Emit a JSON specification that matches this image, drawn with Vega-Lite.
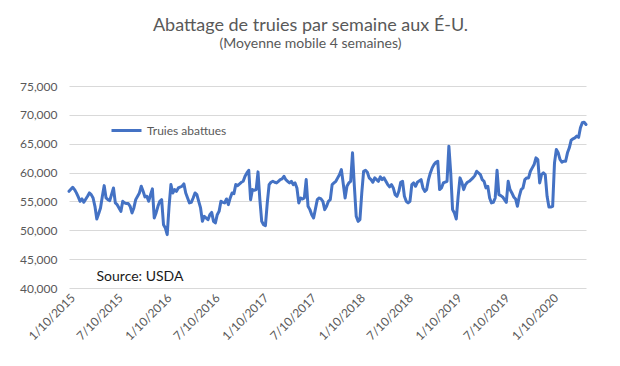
{
  "$schema": "https://vega.github.io/schema/vega-lite/v6.json",
  "autosize": "none",
  "width": 517,
  "height": 202,
  "padding": {"left": 69, "top": 86, "right": 34, "bottom": 78},
  "background": "white",
  "title": {
    "text": "Abattage de truies par semaine aux É-U.",
    "subtitle": "(Moyenne mobile 4 semaines)",
    "anchor": "middle",
    "dx": -17,
    "offset": 29,
    "font": "Lato",
    "fontSize": 18,
    "fontWeight": "normal",
    "color": "#595959",
    "subtitleFont": "Lato",
    "subtitleFontSize": 14,
    "subtitleColor": "#595959",
    "subtitlePadding": 2
  },
  "config": {"view": {"stroke": null}, "font": "Lato"},
  "data": {
    "values": [
      {"d": "2015-01-10", "v": 56750}, {"d": "2015-01-24", "v": 57450}, {"d": "2015-01-31", "v": 57050}, {"d": "2015-02-07", "v": 56480}, {"d": "2015-02-14", "v": 55780}, {"d": "2015-02-21", "v": 55020}, {"d": "2015-02-28", "v": 55430}, {"d": "2015-03-07", "v": 54850}, {"d": "2015-03-21", "v": 55890}, {"d": "2015-03-28", "v": 56470}, {"d": "2015-04-04", "v": 56180}, {"d": "2015-04-11", "v": 55600}, {"d": "2015-04-18", "v": 54150}, {"d": "2015-04-25", "v": 51960}, {"d": "2015-05-02", "v": 52880}, {"d": "2015-05-09", "v": 53870}, {"d": "2015-05-16", "v": 55890}, {"d": "2015-05-23", "v": 57740}, {"d": "2015-05-30", "v": 55600}, {"d": "2015-06-06", "v": 55310}, {"d": "2015-06-13", "v": 55140}, {"d": "2015-06-27", "v": 57340}, {"d": "2015-07-04", "v": 54740}, {"d": "2015-07-11", "v": 54440}, {"d": "2015-07-18", "v": 53870}, {"d": "2015-07-25", "v": 53280}, {"d": "2015-08-01", "v": 55020}, {"d": "2015-08-08", "v": 54740}, {"d": "2015-08-15", "v": 54620}, {"d": "2015-08-22", "v": 54620}, {"d": "2015-08-29", "v": 54150}, {"d": "2015-09-05", "v": 53000}, {"d": "2015-09-12", "v": 53870}, {"d": "2015-09-19", "v": 55310}, {"d": "2015-10-03", "v": 56470}, {"d": "2015-10-10", "v": 57630}, {"d": "2015-10-17", "v": 56750}, {"d": "2015-10-24", "v": 55780}, {"d": "2015-10-31", "v": 55890}, {"d": "2015-11-07", "v": 55020}, {"d": "2015-11-14", "v": 56180}, {"d": "2015-11-21", "v": 57170}, {"d": "2015-11-28", "v": 52130}, {"d": "2015-12-05", "v": 53000}, {"d": "2015-12-12", "v": 54150}, {"d": "2015-12-19", "v": 55020}, {"d": "2015-12-26", "v": 55310},
      {"d": "2016-01-02", "v": 50970}, {"d": "2016-01-09", "v": 50400}, {"d": "2016-01-16", "v": 49240}, {"d": "2016-01-23", "v": 54150}, {"d": "2016-01-30", "v": 57920}, {"d": "2016-02-06", "v": 56470}, {"d": "2016-02-13", "v": 57050}, {"d": "2016-02-20", "v": 56750}, {"d": "2016-02-27", "v": 57340}, {"d": "2016-03-12", "v": 57630}, {"d": "2016-03-19", "v": 58040}, {"d": "2016-03-26", "v": 56470}, {"d": "2016-04-02", "v": 55600}, {"d": "2016-04-09", "v": 54740}, {"d": "2016-04-16", "v": 54850}, {"d": "2016-04-23", "v": 55600}, {"d": "2016-04-30", "v": 56470}, {"d": "2016-05-07", "v": 56180}, {"d": "2016-05-14", "v": 55020}, {"d": "2016-05-21", "v": 53870}, {"d": "2016-05-28", "v": 51550}, {"d": "2016-06-04", "v": 52420}, {"d": "2016-06-18", "v": 51840}, {"d": "2016-06-25", "v": 52710}, {"d": "2016-07-02", "v": 53110}, {"d": "2016-07-09", "v": 51550}, {"d": "2016-07-16", "v": 51270}, {"d": "2016-07-23", "v": 52710}, {"d": "2016-07-30", "v": 53280}, {"d": "2016-08-06", "v": 55020}, {"d": "2016-08-13", "v": 54850}, {"d": "2016-08-20", "v": 54740}, {"d": "2016-08-27", "v": 55430}, {"d": "2016-09-03", "v": 54440}, {"d": "2016-09-10", "v": 55600}, {"d": "2016-09-17", "v": 56470}, {"d": "2016-09-24", "v": 56350}, {"d": "2016-10-01", "v": 57920}, {"d": "2016-10-08", "v": 57740}, {"d": "2016-10-22", "v": 58320}, {"d": "2016-10-29", "v": 58490}, {"d": "2016-11-05", "v": 59360}, {"d": "2016-11-12", "v": 59940}, {"d": "2016-11-19", "v": 60400}, {"d": "2016-11-26", "v": 55310}, {"d": "2016-12-03", "v": 57050}, {"d": "2016-12-10", "v": 56930}, {"d": "2016-12-17", "v": 57050}, {"d": "2016-12-24", "v": 60120}, {"d": "2016-12-31", "v": 55310},
      {"d": "2017-01-07", "v": 51550}, {"d": "2017-01-14", "v": 50970}, {"d": "2017-01-21", "v": 50800}, {"d": "2017-01-28", "v": 54740}, {"d": "2017-02-04", "v": 57920}, {"d": "2017-02-11", "v": 58320}, {"d": "2017-02-18", "v": 58490}, {"d": "2017-02-25", "v": 58320}, {"d": "2017-03-04", "v": 58210}, {"d": "2017-03-11", "v": 58490}, {"d": "2017-03-18", "v": 58780}, {"d": "2017-03-25", "v": 58900}, {"d": "2017-04-01", "v": 59360}, {"d": "2017-04-08", "v": 58780}, {"d": "2017-04-15", "v": 58490}, {"d": "2017-04-22", "v": 58210}, {"d": "2017-04-29", "v": 58490}, {"d": "2017-05-06", "v": 57920}, {"d": "2017-05-13", "v": 58210}, {"d": "2017-05-20", "v": 57340}, {"d": "2017-05-27", "v": 54740}, {"d": "2017-06-03", "v": 55600}, {"d": "2017-06-10", "v": 55430}, {"d": "2017-06-17", "v": 55600}, {"d": "2017-06-24", "v": 58780}, {"d": "2017-07-01", "v": 54150}, {"d": "2017-07-08", "v": 53580}, {"d": "2017-07-15", "v": 52710}, {"d": "2017-07-22", "v": 52140}, {"d": "2017-08-05", "v": 55310}, {"d": "2017-08-12", "v": 55600}, {"d": "2017-08-19", "v": 55430}, {"d": "2017-08-26", "v": 55020}, {"d": "2017-09-02", "v": 53580}, {"d": "2017-09-09", "v": 54150}, {"d": "2017-09-16", "v": 55020}, {"d": "2017-09-23", "v": 55310}, {"d": "2017-09-30", "v": 57920}, {"d": "2017-10-07", "v": 58210}, {"d": "2017-10-14", "v": 58490}, {"d": "2017-10-21", "v": 59080}, {"d": "2017-10-28", "v": 59650}, {"d": "2017-11-04", "v": 60520}, {"d": "2017-11-18", "v": 55600}, {"d": "2017-11-25", "v": 57630}, {"d": "2017-12-02", "v": 58210}, {"d": "2017-12-09", "v": 58490}, {"d": "2017-12-16", "v": 63420}, {"d": "2017-12-23", "v": 57630}, {"d": "2017-12-30", "v": 52420},
      {"d": "2018-01-06", "v": 51550}, {"d": "2018-01-13", "v": 51840}, {"d": "2018-01-20", "v": 56470}, {"d": "2018-01-27", "v": 60230}, {"d": "2018-02-03", "v": 60400}, {"d": "2018-02-10", "v": 60050}, {"d": "2018-02-17", "v": 59080}, {"d": "2018-02-24", "v": 58780}, {"d": "2018-03-03", "v": 58320}, {"d": "2018-03-10", "v": 59080}, {"d": "2018-03-24", "v": 58490}, {"d": "2018-03-31", "v": 59250}, {"d": "2018-04-07", "v": 58780}, {"d": "2018-04-14", "v": 59080}, {"d": "2018-04-21", "v": 58490}, {"d": "2018-04-28", "v": 57920}, {"d": "2018-05-05", "v": 57520}, {"d": "2018-05-12", "v": 57920}, {"d": "2018-05-19", "v": 57340}, {"d": "2018-05-26", "v": 56180}, {"d": "2018-06-02", "v": 55890}, {"d": "2018-06-09", "v": 56750}, {"d": "2018-06-16", "v": 58320}, {"d": "2018-06-23", "v": 58490}, {"d": "2018-06-30", "v": 55890}, {"d": "2018-07-07", "v": 55020}, {"d": "2018-07-14", "v": 54740}, {"d": "2018-07-21", "v": 55020}, {"d": "2018-07-28", "v": 57920}, {"d": "2018-08-04", "v": 58210}, {"d": "2018-08-11", "v": 57630}, {"d": "2018-08-18", "v": 58320}, {"d": "2018-09-01", "v": 58780}, {"d": "2018-09-08", "v": 57340}, {"d": "2018-09-15", "v": 56750}, {"d": "2018-09-22", "v": 57050}, {"d": "2018-09-29", "v": 58780}, {"d": "2018-10-06", "v": 59940}, {"d": "2018-10-13", "v": 60810}, {"d": "2018-10-20", "v": 61390}, {"d": "2018-10-27", "v": 61790}, {"d": "2018-11-03", "v": 61960}, {"d": "2018-11-10", "v": 57050}, {"d": "2018-11-17", "v": 57340}, {"d": "2018-11-24", "v": 58210}, {"d": "2018-12-08", "v": 58490}, {"d": "2018-12-15", "v": 64570}, {"d": "2018-12-22", "v": 59940}, {"d": "2018-12-29", "v": 53580},
      {"d": "2019-01-05", "v": 53000}, {"d": "2019-01-12", "v": 51960}, {"d": "2019-01-19", "v": 55890}, {"d": "2019-01-26", "v": 59080}, {"d": "2019-02-02", "v": 58320}, {"d": "2019-02-09", "v": 57050}, {"d": "2019-02-16", "v": 57920}, {"d": "2019-02-23", "v": 58320}, {"d": "2019-03-02", "v": 58490}, {"d": "2019-03-09", "v": 58780}, {"d": "2019-03-16", "v": 59080}, {"d": "2019-03-23", "v": 59480}, {"d": "2019-03-30", "v": 60230}, {"d": "2019-04-13", "v": 59650}, {"d": "2019-04-20", "v": 58780}, {"d": "2019-04-27", "v": 58490}, {"d": "2019-05-04", "v": 57340}, {"d": "2019-05-11", "v": 57630}, {"d": "2019-05-18", "v": 55600}, {"d": "2019-05-25", "v": 54740}, {"d": "2019-06-01", "v": 54850}, {"d": "2019-06-08", "v": 55600}, {"d": "2019-06-15", "v": 60400}, {"d": "2019-06-22", "v": 56180}, {"d": "2019-06-29", "v": 56010}, {"d": "2019-07-06", "v": 55780}, {"d": "2019-07-20", "v": 54850}, {"d": "2019-07-27", "v": 58490}, {"d": "2019-08-03", "v": 57050}, {"d": "2019-08-10", "v": 56470}, {"d": "2019-08-17", "v": 55780}, {"d": "2019-08-24", "v": 55430}, {"d": "2019-08-31", "v": 54150}, {"d": "2019-09-07", "v": 55890}, {"d": "2019-09-14", "v": 57050}, {"d": "2019-09-21", "v": 57340}, {"d": "2019-09-28", "v": 58780}, {"d": "2019-10-05", "v": 59080}, {"d": "2019-10-12", "v": 59080}, {"d": "2019-10-19", "v": 60230}, {"d": "2019-10-26", "v": 60810}, {"d": "2019-11-02", "v": 61390}, {"d": "2019-11-09", "v": 62550}, {"d": "2019-11-16", "v": 62260}, {"d": "2019-11-23", "v": 58210}, {"d": "2019-11-30", "v": 59650}, {"d": "2019-12-07", "v": 59940}, {"d": "2019-12-14", "v": 59650}, {"d": "2019-12-21", "v": 55890}, {"d": "2019-12-28", "v": 54040},
      {"d": "2020-01-04", "v": 54040}, {"d": "2020-01-11", "v": 54150}, {"d": "2020-01-18", "v": 61680}, {"d": "2020-01-25", "v": 63990}, {"d": "2020-02-01", "v": 63420}, {"d": "2020-02-08", "v": 62260}, {"d": "2020-02-15", "v": 61790}, {"d": "2020-02-22", "v": 61960}, {"d": "2020-02-29", "v": 61960}, {"d": "2020-03-07", "v": 63420}, {"d": "2020-03-14", "v": 64290}, {"d": "2020-03-21", "v": 65610}, {"d": "2020-03-28", "v": 65850}, {"d": "2020-04-04", "v": 66020}, {"d": "2020-04-11", "v": 66310}, {"d": "2020-04-18", "v": 66100}, {"d": "2020-04-25", "v": 67760}, {"d": "2020-05-02", "v": 68630}, {"d": "2020-05-09", "v": 68730}, {"d": "2020-05-16", "v": 68330}
    ]
  },
  "layer": [
    {
      "mark": {"type": "line", "strokeWidth": 3, "strokeJoin": "round", "strokeCap": "round"},
      "encoding": {
        "x": {
          "field": "d",
          "type": "temporal",
          "scale": {"type": "utc", "domain": [{"year": 2015, "month": 1, "date": 10, "utc": true}, {"year": 2020, "month": 5, "date": 16, "utc": true}]},
          "axis": {
            "title": null,
            "values": [
              {"year": 2015, "month": 1, "date": 10, "utc": true}, {"year": 2015, "month": 7, "date": 10, "utc": true},
              {"year": 2016, "month": 1, "date": 10, "utc": true}, {"year": 2016, "month": 7, "date": 10, "utc": true},
              {"year": 2017, "month": 1, "date": 10, "utc": true}, {"year": 2017, "month": 7, "date": 10, "utc": true},
              {"year": 2018, "month": 1, "date": 10, "utc": true}, {"year": 2018, "month": 7, "date": 10, "utc": true},
              {"year": 2019, "month": 1, "date": 10, "utc": true}, {"year": 2019, "month": 7, "date": 10, "utc": true},
              {"year": 2020, "month": 1, "date": 10, "utc": true}
            ],
            "labelExpr": "utcFormat(datum.value, '%-m/%-d/%Y')",
            "labelAngle": -45,
            "labelAlign": "right",
            "labelBaseline": "top",
            "labelFont": "Lato",
            "labelFontSize": 12,
            "labelColor": "#595959",
            "labelPadding": 4,
            "labelOverlap": false,
            "labelFlush": false,
            "domain": false,
            "ticks": false,
            "grid": false
          }
        },
        "y": {
          "field": "v",
          "type": "quantitative",
          "scale": {"domain": [40000, 75000], "nice": false, "zero": false},
          "axis": {
            "title": null,
            "values": [40000, 45000, 50000, 55000, 60000, 65000, 70000, 75000],
            "labelExpr": "format(datum.value, ',.0f')",
            "labelFont": "Lato",
            "labelFontSize": 12,
            "labelColor": "#595959",
            "labelPadding": 12,
            "domain": false,
            "ticks": false,
            "gridColor": "#d9d9d9",
            "gridWidth": 1
          }
        },
        "color": {
          "datum": "Truies abattues",
          "scale": {"range": ["#4472C4"]},
          "legend": {
            "orient": "none",
            "legendX": 41,
            "legendY": 28,
            "title": null,
            "symbolType": "stroke",
            "symbolStrokeWidth": 3,
            "symbolSize": 900,
            "labelFont": "Lato",
            "labelFontSize": 12,
            "labelColor": "#595959"
          }
        }
      }
    },
    {
      "data": {"values": [{"label": "Source: USDA"}]},
      "mark": {"type": "text", "align": "left", "baseline": "middle", "font": "Lato", "fontSize": 14, "color": "#1a1a1a"},
      "encoding": {
        "x": {
          "datum": {"year": 2015, "month": 4, "date": 24, "utc": true},
          "type": "temporal",
          "axis": {
            "title": null,
            "values": [
              {"year": 2015, "month": 1, "date": 10, "utc": true}, {"year": 2015, "month": 7, "date": 10, "utc": true},
              {"year": 2016, "month": 1, "date": 10, "utc": true}, {"year": 2016, "month": 7, "date": 10, "utc": true},
              {"year": 2017, "month": 1, "date": 10, "utc": true}, {"year": 2017, "month": 7, "date": 10, "utc": true},
              {"year": 2018, "month": 1, "date": 10, "utc": true}, {"year": 2018, "month": 7, "date": 10, "utc": true},
              {"year": 2019, "month": 1, "date": 10, "utc": true}, {"year": 2019, "month": 7, "date": 10, "utc": true},
              {"year": 2020, "month": 1, "date": 10, "utc": true}
            ],
            "labelExpr": "utcFormat(datum.value, '%-m/%-d/%Y')",
            "labelAngle": -45,
            "labelAlign": "right",
            "labelBaseline": "top",
            "labelFont": "Lato",
            "labelFontSize": 12,
            "labelColor": "#595959",
            "labelPadding": 4,
            "labelOverlap": false,
            "labelFlush": false,
            "domain": false,
            "ticks": false,
            "grid": false
          }
        },
        "y": {
          "datum": 41950,
          "type": "quantitative",
          "axis": {
            "title": null,
            "values": [40000, 45000, 50000, 55000, 60000, 65000, 70000, 75000],
            "labelExpr": "format(datum.value, ',.0f')",
            "labelFont": "Lato",
            "labelFontSize": 12,
            "labelColor": "#595959",
            "labelPadding": 12,
            "domain": false,
            "ticks": false,
            "gridColor": "#d9d9d9",
            "gridWidth": 1
          }
        },
        "text": {"field": "label"}
      }
    }
  ]
}
